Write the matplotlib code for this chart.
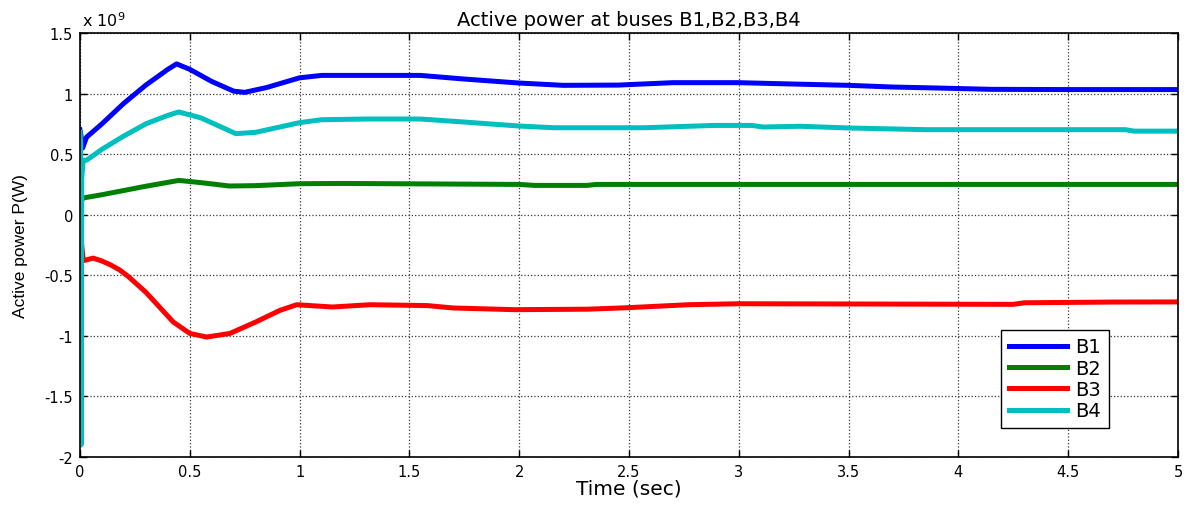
import numpy as np
import matplotlib
matplotlib.use("Agg")
import matplotlib.pyplot as plt
from matplotlib.ticker import FuncFormatter

# Values (power in units of 1e9 W)
tB1 = [0, 0.004, 0.012, 0.03, 0.1, 0.2, 0.3, 0.4, 0.44, 0.5, 0.6, 0.7, 0.75, 0.85,
       1.0, 1.1, 1.3, 1.55, 1.75, 2.0, 2.2, 2.45, 2.7, 3.0, 3.22, 3.5, 3.7, 3.9,
       4.15, 4.5, 5.0]
pB1 = [0.70, 0.66, 0.55, 0.64, 0.75, 0.92, 1.07, 1.20, 1.245, 1.20, 1.10, 1.02, 1.01, 1.05,
       1.13, 1.15, 1.15, 1.15, 1.12, 1.087, 1.068, 1.07, 1.09, 1.09, 1.08, 1.068, 1.054, 1.046,
       1.035, 1.033, 1.033]

tB2 = [0, 0.004, 0.008, 0.02, 0.1, 0.2, 0.3, 0.45, 0.55, 0.68, 0.8, 1.0, 1.2, 1.5,
       2.0, 2.07, 2.31, 2.35, 5.0]
pB2 = [0.0, 0.02, 0.13, 0.14, 0.165, 0.2, 0.235, 0.283, 0.265, 0.237, 0.24, 0.256, 0.258, 0.255,
       0.25, 0.242, 0.242, 0.25, 0.25]

tB3 = [0, 0.004, 0.008, 0.015, 0.06, 0.1, 0.14, 0.18, 0.22, 0.26, 0.30, 0.425, 0.5, 0.577,
       0.683, 0.80, 0.91, 0.987, 1.15, 1.32, 1.58, 1.7, 1.98, 2.31, 2.49, 2.77, 3.0,
       4.25, 4.3, 4.71, 5.0]
pB3 = [-0.15, -0.15, -0.25, -0.38, -0.358, -0.382, -0.415, -0.455, -0.51, -0.575, -0.64, -0.886, -0.98, -1.01,
       -0.98, -0.886, -0.79, -0.743, -0.762, -0.743, -0.75, -0.77, -0.784, -0.78, -0.768, -0.743, -0.735,
       -0.74, -0.727, -0.721, -0.72]

tB4 = [0, 0.003, 0.005, 0.008, 0.015, 0.03, 0.1, 0.2, 0.3, 0.4, 0.45, 0.55, 0.71, 0.8,
       1.0, 1.1, 1.3, 1.55, 1.75, 2.0, 2.16, 2.57, 2.89, 3.06, 3.11, 3.28, 3.5, 3.85,
       4.76, 4.8, 5.0]
pB4 = [0.68, 0.60, -1.9, 0.30, 0.45, 0.45, 0.54, 0.65, 0.75, 0.82, 0.848, 0.80, 0.669, 0.68,
       0.76, 0.784, 0.79, 0.79, 0.765, 0.732, 0.718, 0.718, 0.737, 0.737, 0.724, 0.73, 0.716, 0.702,
       0.702, 0.69, 0.69]

series = [("B1", tB1, pB1, (0, 0, 1)),
          ("B2", tB2, pB2, (0, 0.5, 0)),
          ("B3", tB3, pB3, (1, 0, 0)),
          ("B4", tB4, pB4, (0, 0.75, 0.75))]

xTicks = np.arange(0, 5.01, 0.5)
yTicks = np.arange(-2, 1.51, 0.5)

plt.rcParams['font.family'] = ['DejaVu Sans']

fig = plt.figure(figsize=(11.9, 5.06), dpi=100)
ax = fig.add_axes([0.0672, 0.0949, 0.9227, 0.8379])

for name, t, p, col in series:
    ax.plot(t, p, '-', color=col, lw=3.6, label=name, solid_joinstyle='round')

ax.set_xlim(0, 5)
ax.set_ylim(-2, 1.5)
ax.set_xticks(xTicks)
ax.set_yticks(yTicks)
fmt = FuncFormatter(lambda v, pos: '%g' % v)
ax.xaxis.set_major_formatter(fmt)
ax.yaxis.set_major_formatter(fmt)

# MATLAB-ish look
ax.grid(True, linestyle=':', color='#383838', lw=0.9)
ax.tick_params(direction='in', length=5, width=1, top=True, right=True, labelsize=10.5, pad=5)
for s in ax.spines.values():
    s.set_linewidth(1.2)

ax.text(0.002, 1.01, r'x 10$^9$', transform=ax.transAxes, fontsize=11.5, ha='left', va='bottom')
ax.set_title("Active power at buses B1,B2,B3,B4", fontsize=14, pad=6)
ax.set_xlabel("Time (sec)", fontsize=14.5, labelpad=0)
ax.set_ylabel("Active power P(W)", fontsize=12.5, labelpad=12, family='Liberation Sans')

leg = ax.legend(loc='lower left', bbox_to_anchor=(0.839, 0.068), fontsize=14, handlelength=3.0,
                handletextpad=0.4, fancybox=False, edgecolor='black', framealpha=1,
                borderpad=0.4, labelspacing=0.12, borderaxespad=0)
leg.get_frame().set_linewidth(1.0)

plt.savefig('out.png', dpi=100)
